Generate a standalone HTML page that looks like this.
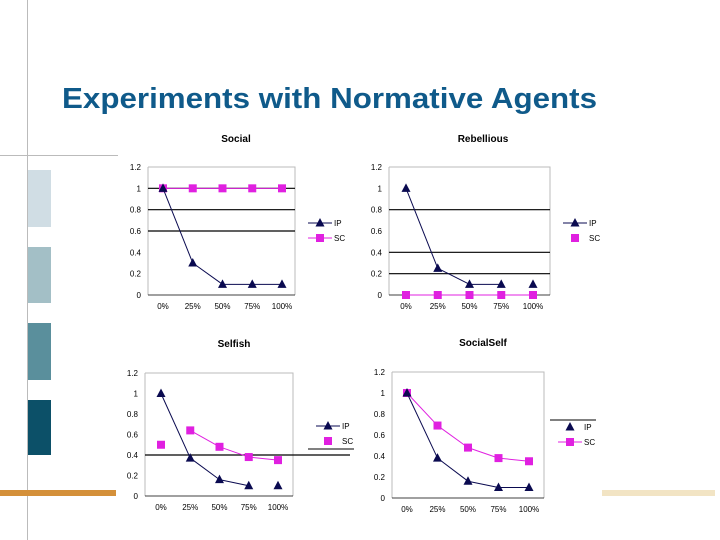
<!DOCTYPE html>
<html><head><meta charset="utf-8"><style>
html,body{margin:0;padding:0;background:#fff;width:720px;height:540px;overflow:hidden}
svg{display:block}
</style></head><body>
<svg id="s" width="720" height="540" xmlns="http://www.w3.org/2000/svg" font-family="Liberation Sans, sans-serif">
<g>
<line x1="27.5" y1="0" x2="27.5" y2="540" stroke="#bbb" stroke-width="1"/>
<line x1="0" y1="155.5" x2="118" y2="155.5" stroke="#bbb" stroke-width="1"/>
<rect x="28" y="170" width="23" height="57" fill="#d0dde4"/>
<rect x="28" y="247" width="23" height="56" fill="#a3bfc6"/>
<rect x="28" y="323" width="23" height="57" fill="#5a8f9c"/>
<rect x="28" y="400" width="23" height="55" fill="#0c5068"/>
<rect x="0" y="490" width="116" height="6" fill="#d4903a"/>
<rect x="602" y="490" width="113" height="6" fill="#f2e4c4"/>
</g>
<text x="62" y="108" font-size="29" font-weight="bold" fill="#0f5a8a" textLength="535" lengthAdjust="spacingAndGlyphs">Experiments with Normative Agents</text>
</svg>
<script>
const cats=['0%','25%','50%','75%','100%'];
const yTicks=[0,0.2,0.4,0.6,0.8,1,1.2];
const yTickLabels=['0','0.2','0.4','0.6','0.8','1','1.2'];
const socialIP=[1,0.3,0.1,0.1,0.1];
const socialSC=[1,1,1,1,1];
const rebelIP=[1,0.25,0.1,0.1,0.1];
const rebelSC=[0,0,0,0,0];
const selfishIP=[1,0.37,0.16,0.1,0.1];
const selfishSC=[0.5,0.64,0.48,0.38,0.35];
const ssIP=[1,0.38,0.16,0.1,0.1];
const ssSC=[1,0.69,0.48,0.38,0.35];
const NS='http://www.w3.org/2000/svg';
const svg=document.getElementById('s');
function mk(tag,attrs,parent){const e=document.createElementNS(NS,tag);for(const k in attrs)e.setAttribute(k,attrs[k]);(parent||svg).appendChild(e);return e;}
function chart(cfg){
 const g=mk('g',{});
 
 
 const L=cfg.l,R=cfg.r,T=cfg.t,B=cfg.b;
 const y=v=>B-(v/1.2)*(B-T);
 const x=i=>cfg.x0+i*(cfg.x1-cfg.x0)/(cats.length-1);
 const t=mk('text',{x:cfg.tx,y:cfg.ty,'font-size':10,'font-weight':'bold','text-anchor':'middle',fill:'#000'},g);t.textContent=cfg.title;
 
 
 mk('path',{d:`M${L} ${T}H${R}V${B}`,fill:'none',stroke:'#bbb'},g);
 mk('line',{x1:L,y1:T,x2:L,y2:B,stroke:'#bbb'},g);
 cfg.grid.forEach(v=>{const gl=mk('line',{x1:L,y1:y(v),x2:cfg.gridEnd||R,y2:y(v),stroke:'#000','stroke-width':1.2},g);
  
  });
 mk('line',{x1:L,y1:B,x2:R,y2:B,stroke:'#000','stroke-width':0.8},g);
 yTicks.forEach((v,i)=>{const tl=mk('text',{x:L-7,y:y(v)+3,'font-size':8,'text-anchor':'end',fill:'#000'},g);tl.textContent=yTickLabels[i];
  
  });
 cats.forEach((c,i)=>{const tl=mk('text',{x:x(i),y:B+14,'font-size':8,'text-anchor':'middle',fill:'#000'},g);tl.textContent=c;
  
  });
 function series(vals,color,marker,skip,lname){
  const sg=mk('g',{},g);
  
  
  for(let i=0;i<vals.length-1;i++){if(skip.includes(i))continue;
   mk('line',{x1:x(i),y1:y(vals[i]),x2:x(i+1),y2:y(vals[i+1]),stroke:color,'stroke-width':1},sg);}
  vals.forEach((v,i)=>drawMarker(sg,marker,x(i),y(v),color));
 }
 series(cfg.sc,'#e020e0','sq',cfg.scSkip||[],'series-sc');
 series(cfg.ip,'#0a0a50','tri',cfg.ipSkip||[],'series-ip');
 const lg=mk('g',{},g);
 
 
 const lx=cfg.lx,ly=cfg.ly;
 if(cfg.legTop)mk('line',{x1:lx-8,y1:ly-7,x2:lx+38,y2:ly-7,stroke:'#000'},lg);
 if(cfg.legBot)mk('line',{x1:lx-8,y1:ly+23,x2:lx+38,y2:ly+23,stroke:'#000'},lg);
 if(cfg.ipLine)mk('line',{x1:lx,y1:ly,x2:lx+24,y2:ly,stroke:'#0a0a50'},lg);
 drawMarker(lg,'tri',lx+12,ly,'#0a0a50');
 let tt=mk('text',{x:lx+26,y:ly+3,'font-size':8},lg);tt.textContent='IP';
 if(cfg.scLine)mk('line',{x1:lx,y1:ly+15,x2:lx+24,y2:ly+15,stroke:'#e020e0'},lg);
 drawMarker(lg,'sq',lx+12,ly+15,'#e020e0');
 tt=mk('text',{x:lx+26,y:ly+18,'font-size':8},lg);tt.textContent='SC';
}
function drawMarker(p,m,cx,cy,c){
 if(m==='sq')mk('rect',{x:cx-4,y:cy-4,width:8,height:8,fill:c},p);
 else mk('polygon',{points:`${cx},${cy-5} ${cx-4.5},${cy+3.5} ${cx+4.5},${cy+3.5}`,fill:c},p);
}
chart({name:'chart-social',title:'Social',tx:236,ty:142,l:148,r:295,t:167,b:295,x0:163,x1:282,grid:[0.6,0.8,1],ip:socialIP,sc:socialSC,lx:308,ly:223,ipLine:true,scLine:true});
chart({name:'chart-rebellious',title:'Rebellious',tx:483,ty:142,l:389,r:550,t:167,b:295,x0:406,x1:533,grid:[0.2,0.4,0.8],ip:rebelIP,sc:rebelSC,ipSkip:[3],lx:563,ly:223,ipLine:true,scLine:false});
chart({name:'chart-selfish',title:'Selfish',tx:234,ty:347,l:145,r:293,t:373,b:496,x0:161,x1:278,grid:[0.4],gridEnd:350,ip:selfishIP,sc:selfishSC,ipSkip:[3],scSkip:[0],lx:316,ly:426,ipLine:true,scLine:false,legBot:true});
chart({name:'chart-socialself',title:'SocialSelf',tx:483,ty:346,l:392,r:544,t:372,b:498,x0:407,x1:529,grid:[],ip:ssIP,sc:ssSC,lx:558,ly:427,ipLine:false,scLine:true,legTop:true});
</script>
</body></html>
